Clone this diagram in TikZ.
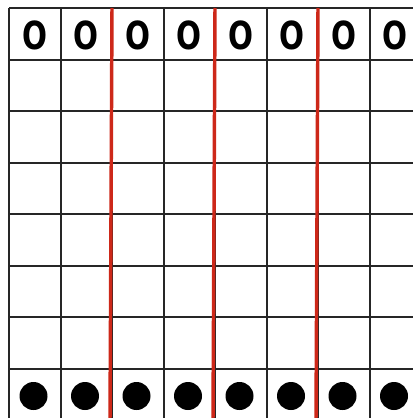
\documentclass[tikz,border=0pt]{standalone}
\usepackage{fontspec}
\newfontfamily\cellfont{DejaVu Sans}
\tikzset{every picture/.style={line width=0.75pt}}
\definecolor{ruleRed}{RGB}{205,40,25}
\tikzset{
  gridline/.style={line width=1.5pt, black!85},
  redline/.style={line width=2.6pt, ruleRed},
  letterO/.style={inner sep=0pt, font=\cellfont\bfseries\fontsize{29}{29}\selectfont, xscale=0.76},
  blackdot/.style={circle, fill=black, draw=none, minimum size=21pt, inner sep=0pt},
}

\begin{document}
\begin{tikzpicture}[x=0.75pt,y=0.75pt,yscale=-1,xscale=1]
		\useasboundingbox (0,0) rectangle (413,418);
		\clip (0,0) rectangle (413,418);
		
		%Vertical grid lines
		\foreach \i in {0,...,8}
			\draw [gridline] (9+51.5*\i,8) -- (9+51.5*\i,420) ;
		%Horizontal grid lines
		\foreach \j in {0,...,8}
			\draw [gridline] (9,8+51.5*\j) -- (421,8+51.5*\j) ;
		%Red dividers
		\foreach \i in {2,4,6}
			\draw [redline] (9+51.5*\i,8) -- (9+51.5*\i-2,420) ;
		
		% Text Nodes (top row)
		\foreach \i in {1,...,8}
			\node [letterO] (o\i) at (9+51.5*\i-25.75,35) {O};
		% Dots (bottom row)
		\foreach \i in {1,...,8}
			\node [blackdot] (d\i) at (9+51.5*\i-27,396) {};
\end{tikzpicture}
\end{document}
